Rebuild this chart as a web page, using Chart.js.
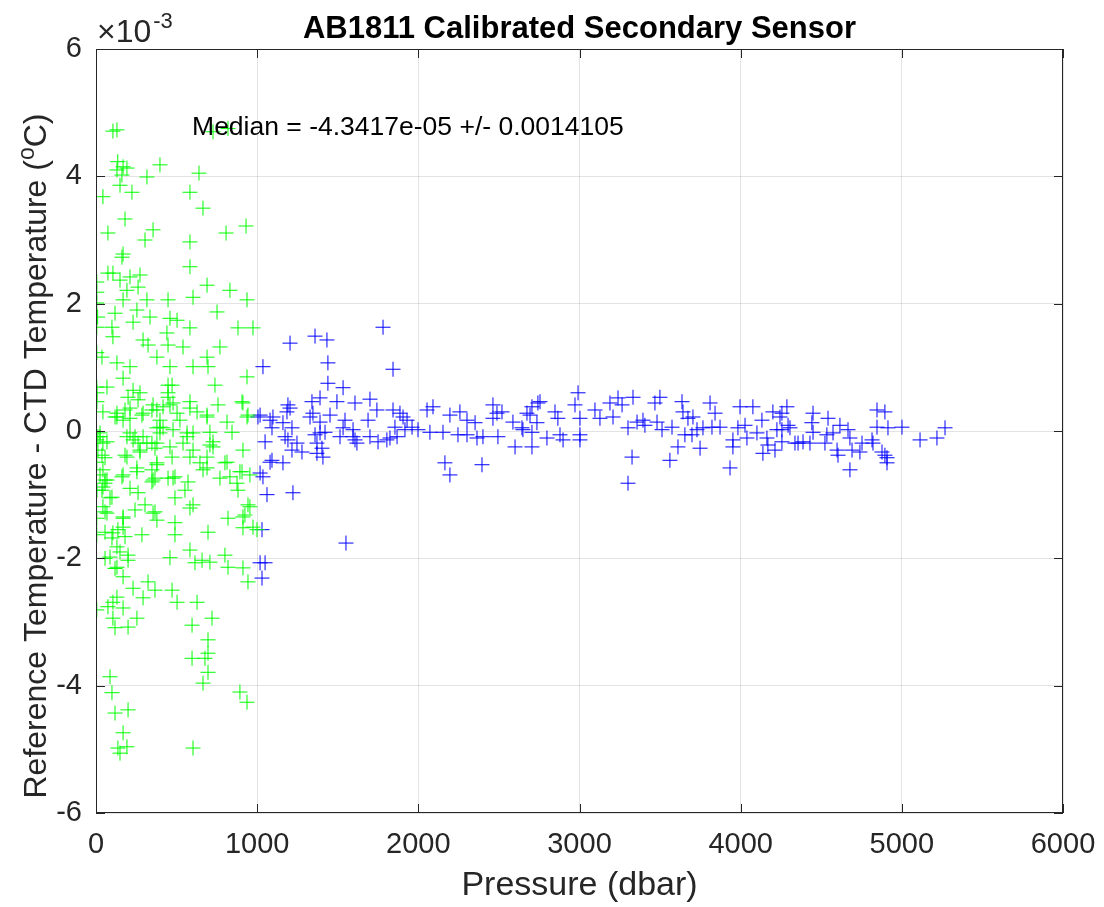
<!DOCTYPE html>
<html>
<head>
<meta charset="utf-8">
<title>AB1811 Calibrated Secondary Sensor</title>
<script src="https://cdn.jsdelivr.net/npm/chart.js@4.4.1/dist/chart.umd.min.js"></script>
<style>
  html, body { margin: 0; padding: 0; background: #ffffff; }
  #wrap { width: 1104px; height: 907px; position: relative; }
</style>
</head>
<body>
<div id="wrap"><canvas id="residualChart"></canvas></div>
<script>
// Temperature residuals (reference - CTD), in units of 1e-3 degC, against pressure (dbar)
const shallowPoints = [
  [105,4.71],[130,4.73],[135,4.23],[168,4.15],[192,4.13],[130,4.10],[161,4.02],[149,3.86],[223,3.75],[43,3.68],
  [397,4.18],[316,3.99],[639,4.05],[583,3.75],[664,3.50],[180,3.33],[74,3.11],[354,3.16],[304,3.00],[583,2.97],
  [807,3.11],[931,3.22],[168,2.78],[161,2.73],[583,2.58],[74,2.48],[105,2.48],[211,2.42],[273,2.45],[149,2.37],
  [5,2.34],[192,2.21],[261,2.26],[689,2.29],[831,2.21],[602,2.10],[5,2.18],[168,2.06],[316,2.06],[447,2.06],
  [937,2.06],[5,2.01],[118,1.85],[254,1.90],[751,1.87],[10,1.79],[503,1.74],[459,1.77],[335,1.79],[230,1.71],
  [99,1.63],[5,1.63],[583,1.62],[881,1.62],[974,1.62],[105,1.48],[440,1.54],[292,1.43],[323,1.35],[447,1.35],
  [540,1.32],[769,1.32],[378,1.16],[37,1.16],[5,1.23],[689,1.16],[211,1.01],[459,1.01],[602,1.01],[695,1.01],
  [130,1.07],[937,0.85],[168,0.83],[738,0.72],[447,0.72],[230,0.64],[5,0.69],[68,0.69],[447,0.60],[273,0.60],
  [757,0.41],[906,0.46],[478,0.44],[354,0.41],[583,0.46],[211,0.36],[130,0.28],[43,0.30],[285,0.25],[503,0.28],
  [627,0.30],[689,0.25],[813,0.14],[844,-0.02],[943,0.25],[168,0.17],[397,0.17],[211,-0.03],[25,-0.03],[478,0.02],
  [565,-0.03],[397,-0.03],[726,-0.17],[230,-0.14],[316,-0.19],[25,-0.09],[43,-0.19],[12,-0.30],[68,-0.17],[37,-0.38],
  [5,-0.14],[5,-0.49],[43,-0.61],[25,-0.69],[68,-0.77],[43,-0.88],[6,-0.93],[99,-1.04],[43,-1.19],[68,-1.29],
  [5,-1.37],[5,-1.63],[105,-1.60],[136,-1.55],[130,-1.82],[149,-1.90],[199,-1.95],[87,-1.98],[130,-2.14],[168,-1.51],
  [180,-1.66],[199,-2.03],[130,0.22],[211,0.20],[292,0.28],[378,0.33],[459,0.41],[583,0.36],[912,0.44],[937,0.22],
  [689,0.22],[521,0.17],[397,0.06],[602,-0.03],[292,-0.09],[378,-0.19],[192,-0.09],[459,-0.25],[540,-0.19],[602,-0.30],
  [689,-0.41],[912,-0.30],[726,-0.25],[273,-0.30],[378,-0.50],[192,-0.41],[645,-0.50],[813,-0.49],[893,-0.64],[955,-0.69],
  [689,-0.58],[769,-0.74],[478,-0.74],[354,-0.77],[254,-0.64],[168,-0.69],[571,-0.80],[875,-0.82],[881,-0.93],[211,-0.90],
  [261,-0.97],[552,-0.93],[490,-1.05],[602,-1.16],[583,-1.21],[304,-1.16],[366,-1.27],[242,-1.24],[168,-1.35],[378,-1.40],
  [490,-1.44],[819,-1.37],[912,-1.35],[955,-1.19],[974,-1.51],[912,-1.52],[695,-1.59],[490,-1.63],[285,-1.63],[583,-1.87],
  [459,-1.99],[658,-2.03],[707,-2.06],[614,-2.07],[800,-1.95],[819,-2.14],[912,-2.15],[943,-2.37],[168,-2.29],[118,-2.16],
  [323,-2.37],[366,-2.50],[230,-2.47],[292,-2.62],[472,-2.50],[503,-2.69],[627,-2.69],[130,-2.61],[105,-2.69],[74,-2.76],
  [168,-2.78],[5,-2.81],[105,-2.94],[254,-2.94],[118,-3.09],[199,-3.08],[596,-3.05],[720,-2.94],[695,-3.28],[596,-3.57],
  [676,-3.57],[695,-3.49],[695,-3.79],[664,-3.96],[87,-3.86],[99,-4.11],[893,-4.10],[937,-4.26],[118,-4.43],[199,-4.38],
  [168,-4.74],[136,-4.98],[149,-5.06],[192,-4.96],[602,-4.98],[906,-0.64],[924,-1.32],[999,-1.55],[6,0.60],[6,0.46],
  [118,0.22],[199,0.53],[261,0.49],[180,0.33],[347,0.33],[416,0.38],[447,0.53],[472,0.72],[378,0.05],[416,0.05],
  [12,-0.09],[56,-0.42],[242,-0.09],[261,-0.19],[273,-0.33],[347,-0.19],[366,-0.27],[378,-0.53],[347,-0.61],[254,-0.58],
  [180,-0.38],[56,-0.77],[37,-0.93],[161,-0.72],[366,-0.74],[447,-0.74],[472,-0.41],[707,-0.02],[565,-0.09],[707,-0.22],
  [583,-0.41],[800,-0.50],[664,-0.61],[490,-0.72],[831,-0.72],[56,-0.82],[347,-0.80],[87,-1.05],[943,-1.16],[56,-1.27],
  [354,-1.29],[168,-1.37],[56,-1.59],[99,-1.68],[56,-2.00],[726,4.70],[819,4.75]
];

const deepPoints = [
  [1036,1.01],[1018,0.25],[1080,0.17],[1049,-0.17],[1092,0.05],[1092,-0.46],[1018,-0.66],[1036,-0.72],[1061,-1.00],[1030,-1.55],
  [1018,-2.07],[1049,-2.07],[1030,-2.31],[1204,1.38],[1359,1.49],[1433,1.43],[1781,1.63],[1439,1.07],[1843,0.97],[1439,0.75],
  [1533,0.68],[1005,0.22],[1098,0.22],[1191,0.41],[1204,0.36],[1185,0.30],[1340,0.46],[1390,0.52],[1346,0.28],[1495,0.46],
  [1607,0.44],[1700,0.50],[1743,0.33],[1843,0.33],[1886,0.28],[1688,0.17],[1545,0.17],[1452,0.25],[1390,0.14],[1328,0.22],
  [1160,0.13],[1216,0.05],[1173,-0.09],[1191,-0.14],[1247,-0.19],[1278,-0.33],[1216,-0.30],[1359,-0.06],[1390,-0.03],[1421,-0.02],
  [1371,-0.19],[1402,-0.27],[1371,-0.35],[1408,-0.41],[1514,-0.09],[1595,0.02],[1595,-0.09],[1607,-0.14],[1619,-0.19],[1533,0.05],
  [1700,-0.09],[1750,-0.17],[1805,-0.14],[1824,-0.11],[1855,0.06],[1868,-0.09],[1905,0.22],[1930,0.17],[1961,0.06],[1917,0.02],
  [1998,0.02],[2054,0.33],[2091,0.38],[2072,-0.02],[2153,-0.02],[2196,0.25],[2258,0.30],[2302,0.17],[2352,0.13],[2246,-0.06],
  [2302,-0.06],[2364,-0.11],[2401,-0.09],[2463,0.41],[2488,0.28],[2463,0.20],[2494,-0.09],[2587,0.14],[2649,0.02],[2600,-0.25],
  [2674,0.28],[1080,-0.49],[1160,-0.50],[2165,-0.50],[2196,-0.69],[2395,-0.53],[1222,-0.97],[1551,-1.76],[2519,0.30],[2643,0.05],
  [2705,0.38],[2742,0.44],[2755,0.46],[2693,0.25],[2736,0.13],[2705,-0.02],[2705,-0.25],[2798,-0.11],[2848,0.30],[2866,0.20],
  [2879,-0.06],[2898,-0.14],[2991,0.60],[2972,0.41],[3003,0.20],[3003,-0.06],[3003,-0.14],[3096,0.33],[3127,0.20],[3189,0.44],
  [3239,0.52],[3264,0.41],[3332,0.53],[3208,0.22],[3301,0.05],[3357,0.14],[3394,0.17],[3406,0.09],[3326,-0.41],[3301,-0.82],
  [3468,0.44],[3499,0.53],[3481,0.14],[3512,0.02],[3574,0.06],[3611,-0.25],[3561,-0.46],[3636,0.46],[3642,0.30],[3673,0.20],
  [3704,0.22],[3654,-0.06],[3698,-0.06],[3729,0.02],[3748,-0.27],[3766,0.05],[3810,0.44],[3841,0.28],[3822,0.06],[3872,0.06],
  [3952,-0.14],[3952,-0.25],[3934,-0.58],[3996,0.38],[3983,0.05],[4027,0.09],[4076,0.38],[4039,-0.11],[4101,-0.03],[4132,0.17],
  [4163,-0.11],[4169,-0.22],[4138,-0.35],[4213,-0.30],[4200,0.30],[4244,0.22],[4225,0.02],[4287,0.38],[4294,0.09],[4256,0.02],
  [4337,-0.19],[4256,0.28],[4306,0.05],[4256,-0.17],[4356,-0.19],[4387,-0.17],[4430,-0.19],[4449,0.28],[4442,0.13],[4449,-0.02],
  [4542,0.20],[4535,-0.06],[4573,-0.03],[4523,-0.19],[4616,0.09],[4666,0.02],[4678,-0.11],[4598,-0.30],[4604,-0.38],[4691,-0.30],
  [4740,-0.33],[4753,-0.19],[4678,-0.61],[4815,-0.14],[4821,-0.19],[4846,0.33],[4895,0.30],[4846,0.06],[4914,0.05],[4877,-0.33],
  [4895,-0.38],[4908,-0.42],[4908,-0.50],[5001,0.06],[5113,-0.14],[5218,-0.11],[5268,0.05]
];

const xTicks = [0, 1000, 2000, 3000, 4000, 5000, 6000];
const yTicks = [-6, -4, -2, 0, 2, 4, 6];

const titleText = 'AB1811 Calibrated Secondary Sensor';
const xLabel = 'Pressure (dbar)';
const medianText = 'Median = -4.3417e-05 +/- 0.0014105';

const FONT = "'Liberation Sans', Arial, Helvetica, sans-serif";
const INK = '#262626';

function toXY(list) {
  return list.map(function(p) { return { x: p[0], y: p[1] }; });
}

// box, inward tick marks, title, axis labels and the annotation
const decorations = {
  id: 'decorations',
  afterDraw(chart) {
    const ctx = chart.ctx;
    const a = chart.chartArea;
    const xs = chart.scales.x;
    const ys = chart.scales.y;
    const tick = 9;

    ctx.save();
    ctx.strokeStyle = INK;
    ctx.lineWidth = 1;
    ctx.strokeRect(Math.round(a.left) + 0.5, Math.round(a.top) + 0.5,
                   Math.round(a.width) - 1, Math.round(a.height) - 1);

    ctx.beginPath();
    xTicks.forEach(function(v) {
      const px = Math.round(xs.getPixelForValue(v)) + 0.5;
      ctx.moveTo(px, a.bottom); ctx.lineTo(px, a.bottom - tick);
      ctx.moveTo(px, a.top); ctx.lineTo(px, a.top + tick);
    });
    yTicks.forEach(function(v) {
      const py = Math.round(ys.getPixelForValue(v)) + 0.5;
      ctx.moveTo(a.left, py); ctx.lineTo(a.left + tick, py);
      ctx.moveTo(a.right, py); ctx.lineTo(a.right - tick, py);
    });
    ctx.stroke();

    // title
    ctx.fillStyle = '#000000';
    ctx.textAlign = 'center';
    ctx.textBaseline = 'alphabetic';
    ctx.font = 'bold 31px ' + FONT;
    ctx.fillText(titleText, (a.left + a.right) / 2, 38);

    // x axis label
    ctx.fillStyle = INK;
    ctx.font = '34px ' + FONT;
    ctx.fillText(xLabel, (a.left + a.right) / 2, 895);

    // y axis label with superscript degree
    ctx.save();
    ctx.translate(46, 456);
    ctx.rotate(-Math.PI / 2);
    ctx.textAlign = 'left';
    const partA = 'Reference Temperature - CTD Temperature (';
    const partB = 'o';
    const partC = 'C)';
    ctx.font = '32px ' + FONT;
    const wA = ctx.measureText(partA).width;
    const wC = ctx.measureText(partC).width;
    ctx.font = '23px ' + FONT;
    const wB = ctx.measureText(partB).width;
    let cx = -(wA + wB + wC) / 2;
    ctx.font = '32px ' + FONT;
    ctx.fillText(partA, cx, 0);
    cx += wA;
    ctx.font = '23px ' + FONT;
    ctx.fillText(partB, cx, -12);
    cx += wB;
    ctx.font = '32px ' + FONT;
    ctx.fillText(partC, cx, 0);
    ctx.restore();

    // exponent of the y axis
    ctx.textAlign = 'left';
    ctx.font = '32px ' + FONT;
    ctx.fillText('\u00d710', 97, 42);
    const wExp = ctx.measureText('\u00d710').width;
    ctx.font = '22px ' + FONT;
    ctx.fillText('-3', 97 + wExp + 2, 28);

    // median annotation
    ctx.fillStyle = '#000000';
    ctx.font = '26.5px ' + FONT;
    ctx.textBaseline = 'middle';
    ctx.fillText(medianText, xs.getPixelForValue(596), ys.getPixelForValue(4.77));
    ctx.restore();
  }
};

document.addEventListener('DOMContentLoaded', function() {
  const ctx = document.getElementById('residualChart');
  new Chart(ctx, {
    type: 'scatter',
    data: {
      datasets: [{
        label: 'p < 1000 dbar',
        data: toXY(shallowPoints),
        pointStyle: 'cross',
        pointRadius: 7.5,
        pointHoverRadius: 7.5,
        borderWidth: 1,
        borderColor: '#00ff00',
        backgroundColor: '#00ff00',
        clip: 0
      }, {
        label: 'p >= 1000 dbar',
        data: toXY(deepPoints),
        pointStyle: 'cross',
        pointRadius: 7.5,
        pointHoverRadius: 7.5,
        borderWidth: 1,
        borderColor: '#0000ff',
        backgroundColor: '#0000ff',
        clip: 0
      }]
    },
    options: {
      responsive: true,
      maintainAspectRatio: false,
      animation: false,
      events: [],
      layout: { padding: { left: 0, top: 49, right: 41, bottom: 0 } },
      plugins: {
        legend: { display: false },
        title: { display: false },
        tooltip: { enabled: false }
      },
      scales: {
        x: {
          type: 'linear',
          min: 0,
          max: 6000,
          afterBuildTicks: function(scale) {
            scale.ticks = xTicks.map(function(v) { return { value: v }; });
          },
          afterFit: function(scale) {
            scale.height = 94;
            scale.paddingLeft = 0;
            scale.paddingRight = 0;
          },
          grid: { color: 'rgba(0,0,0,0.11)', drawTicks: false },
          border: { display: false },
          ticks: {
            padding: 15,
            color: INK,
            maxRotation: 0,
            font: { family: FONT, size: 29 },
            callback: function(v) { return String(v); }
          }
        },
        y: {
          type: 'linear',
          min: -6,
          max: 6,
          afterBuildTicks: function(scale) {
            scale.ticks = yTicks.map(function(v) { return { value: v }; });
          },
          afterFit: function(scale) {
            scale.width = 96;
            scale.paddingTop = 0;
            scale.paddingBottom = 0;
          },
          grid: { color: 'rgba(0,0,0,0.11)', drawTicks: false },
          border: { display: false },
          ticks: {
            padding: 14,
            color: INK,
            font: { family: FONT, size: 29 },
            callback: function(v) { return String(v); }
          }
        }
      }
    },
    plugins: [decorations]
  });
});
</script>
</body>
</html>
